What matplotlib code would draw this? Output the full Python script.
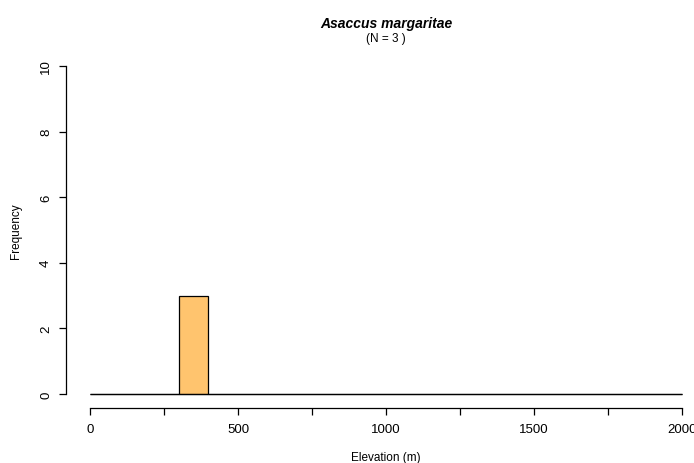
import matplotlib
matplotlib.use("Agg")
import matplotlib.pyplot as plt
import numpy as np

plt.rcParams['font.family'] = ['Liberation Sans', 'DejaVu Sans']

species = "Asaccus margaritae"
n_label = "(N = 3 )"
bin_edges = list(range(0, 2001, 100))
counts = [0, 0, 0, 3, 0, 0, 0, 0, 0, 0, 0, 0, 0, 0, 0, 0, 0, 0, 0, 0]
xticks = [0, 250, 500, 750, 1000, 1250, 1500, 1750, 2000]
xticklabels = ["0", "", "500", "", "1000", "", "1500", "", "2000"]
yticks = [0, 2, 4, 6, 8, 10]

W, H = 694, 464
fig = plt.figure(figsize=(W / 100, H / 100), dpi=100)
ax = fig.add_axes([90 / W, (H - 395) / H, 592 / W, 328 / H])
ax.set_xlim(0, 2000)
ax.set_ylim(0, 10)
ax.patch.set_visible(False)

lefts = bin_edges[:-1]
widths = np.diff(bin_edges)
ax.bar(lefts, counts, width=widths, align='edge', color='#FFC46E',
       edgecolor='black', linewidth=0.9, clip_on=False)
# zero-height bins draw as baseline
ax.hlines(0, bin_edges[0], bin_edges[-1], color='black', linewidth=0.9, clip_on=False)

for s in ['top', 'right']:
    ax.spines[s].set_visible(False)
ax.spines['left'].set_position(('outward', 24 * 0.72))
ax.spines['bottom'].set_position(('outward', 14 * 0.72))
ax.spines['left'].set_bounds(0, 10)
ax.spines['bottom'].set_bounds(0, 2000)
for s in ['left', 'bottom']:
    ax.spines[s].set_linewidth(0.9)

ax.set_xticks(xticks)
ax.set_xticklabels(xticklabels)
ax.set_yticks(yticks)
ax.set_yticklabels([str(v) for v in yticks], rotation=90, va='center')
ax.tick_params(axis='both', length=5, width=0.9, labelsize=9.5, pad=6)
ax.tick_params(axis='y', pad=5)

fig.text(386 / W, 1 - 24 / H, species, ha='center', va='center',
         fontsize=10, fontweight='bold', fontstyle='italic')
fig.text(386 / W, 1 - 39 / H, n_label, ha='center', va='center', fontsize=8.5)
fig.text(386 / W, 1 - 458 / H, "Elevation (m)", ha='center', va='center', fontsize=8.5)
fig.text(16 / W, 1 - 231 / H, "Frequency", ha='center', va='center',
         rotation=90, fontsize=8.5)

fig.savefig("out.png", dpi=100, facecolor='white')
